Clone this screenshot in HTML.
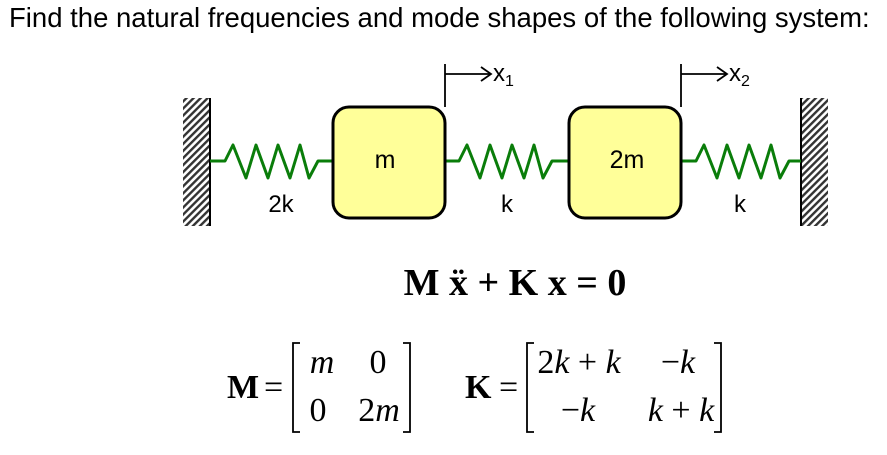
<!DOCTYPE html>
<html><head><meta charset="utf-8"><style>
html,body{margin:0;padding:0;background:#fff;width:887px;height:455px;overflow:hidden}
svg{display:block}
.s{font-family:"Liberation Sans",sans-serif}
.r{font-family:"Liberation Serif",serif}
</style></head><body>
<svg width="887" height="455" viewBox="0 0 887 455">
<defs>
<pattern id="hatch" width="5" height="5" patternUnits="userSpaceOnUse" patternTransform="rotate(45)">
<rect width="5" height="5" fill="#fff"/><rect width="2.4" height="5" fill="#333"/>
</pattern>
</defs>
<text class="s" x="9" y="27" font-size="27.5" fill="#000">Find the natural frequencies and mode shapes of the following system:</text>

<g>
<rect x="183" y="98" width="27" height="128" fill="url(#hatch)"/>
<line x1="210" y1="98" x2="210" y2="226" stroke="#000" stroke-width="2"/>
</g>
<g>
<rect x="801" y="98" width="27" height="128" fill="url(#hatch)"/>
<line x1="801" y1="98" x2="801" y2="226" stroke="#000" stroke-width="2"/>
</g>

<polyline fill="none" stroke="#0a7d0a" stroke-width="3" stroke-linejoin="round"
 points="210,161 225,161 233,145 246,178 256,145 268,178 278,145 290,178 300,145 309,178 318,161 333,161"/>
<polyline fill="none" stroke="#0a7d0a" stroke-width="3" stroke-linejoin="round"
 points="445,161 459,161 467,145 480,178 490,145 502,178 512,145 524,178 534,145 543,178 552,161 568,161"/>
<polyline fill="none" stroke="#0a7d0a" stroke-width="3" stroke-linejoin="round"
 points="681,161 696,161 704,145 717,178 727,145 739,178 749,145 761,178 771,145 780,178 789,161 801,161"/>

<g>
<rect x="333" y="107" width="112" height="111" rx="16" fill="#ffff99" stroke="#000" stroke-width="3"/>
<text class="s" x="385" y="168" font-size="25" text-anchor="middle">m</text>
</g>
<g>
<rect x="569" y="107" width="112" height="111" rx="16" fill="#ffff99" stroke="#000" stroke-width="3"/>
<text class="s" x="627" y="168" font-size="25" text-anchor="middle">2m</text>
</g>

<text class="s" x="281" y="212" font-size="24" text-anchor="middle">2k</text>
<text class="s" x="507" y="212" font-size="24" text-anchor="middle">k</text>
<text class="s" x="740" y="212" font-size="24" text-anchor="middle">k</text>

<g stroke="#000" stroke-width="1.8" fill="none">
<line x1="445" y1="64" x2="445" y2="107"/>
<line x1="445" y1="74" x2="490" y2="74"/>
<polyline points="481,67 491,74 481,81"/>
</g>
<text class="s" x="493" y="81" font-size="24">x<tspan font-size="16" dy="5">1</tspan></text>
<g stroke="#000" stroke-width="1.8" fill="none">
<line x1="681" y1="64" x2="681" y2="107"/>
<line x1="681" y1="74" x2="726" y2="74"/>
<polyline points="717,67 727,74 717,81"/>
</g>
<text class="s" x="729" y="81" font-size="24">x<tspan font-size="16" dy="5">2</tspan></text>

<text class="r" x="515" y="295" font-size="38" font-weight="bold" text-anchor="middle">M x&#776; + K x = 0</text>

<g class="r" font-size="34">
<text x="227" y="398" font-weight="bold">M</text>
<text x="264" y="398">=</text>
<polyline points="300,343 293,343 293,432 300,432" fill="none" stroke="#000" stroke-width="1.8"/>
<polyline points="403,343 410,343 410,432 403,432" fill="none" stroke="#000" stroke-width="1.8"/>
<text x="322" y="373" font-style="italic" text-anchor="middle">m</text>
<text x="378" y="373" text-anchor="middle">0</text>
<text x="318" y="421" text-anchor="middle">0</text>
<text x="379" y="421" text-anchor="middle"><tspan>2</tspan><tspan font-style="italic">m</tspan></text>
</g>

<g class="r" font-size="34">
<text x="465" y="398" font-weight="bold">K</text>
<text x="499" y="398">=</text>
<polyline points="534,343 527,343 527,432 534,432" fill="none" stroke="#000" stroke-width="1.8"/>
<polyline points="714,343 721,343 721,432 714,432" fill="none" stroke="#000" stroke-width="1.8"/>
<text x="579" y="373" text-anchor="middle" xml:space="preserve">2<tspan font-style="italic">k</tspan> + <tspan font-style="italic">k</tspan></text>
<text x="678" y="373" text-anchor="middle">−<tspan font-style="italic">k</tspan></text>
<text x="578" y="421" text-anchor="middle">−<tspan font-style="italic">k</tspan></text>
<text x="681" y="421" text-anchor="middle" xml:space="preserve"><tspan font-style="italic">k</tspan> + <tspan font-style="italic">k</tspan></text>
</g>
</svg>
</body></html>
